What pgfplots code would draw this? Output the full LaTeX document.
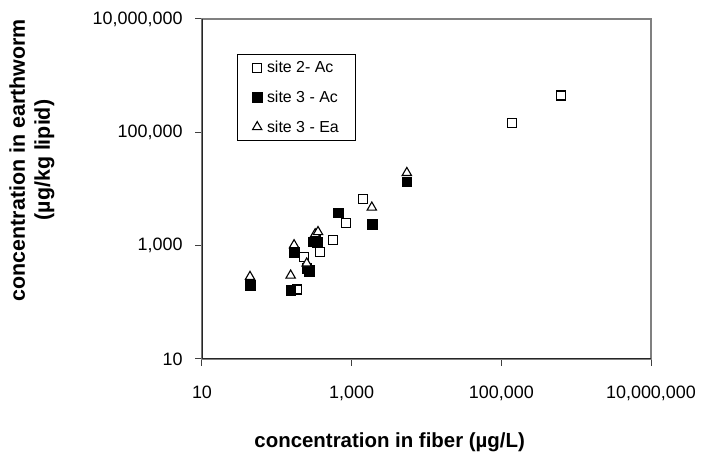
\documentclass[border=0pt]{standalone}
\usepackage{pgfplots}
\pgfplotsset{compat=1.18}
\usepackage{fontspec}
\setmainfont{Liberation Sans}
\begin{document}
\begin{tikzpicture}
\begin{axis}[
  scale only axis, width=449bp, height=340bp,
  xmode=log, ymode=log,
  xmin=10, xmax=1e7, ymin=10, ymax=1e7,
  xtick={10,1000,100000,10000000},
  xticklabels={10,{1,000},{100,000},{10,000,000}},
  ytick={10,1000,100000,10000000},
  yticklabels={10,{1,000},{100,000},{10,000,000}},
  xminorticks=false, yminorticks=false,
  xtick pos=left, ytick pos=left,
  tick align=outside, major tick length=7bp,
  tick style={black!75, line width=1bp},
  axis line style={draw=black!50, line width=1.1bp},
  ticklabel style={font=\fontsize{18}{20}\selectfont},
  /pgf/number format/assume math mode=true,
  xticklabel style={yshift=-16bp},
  yticklabel style={xshift=-9bp},
  xlabel={concentration in fiber (µg/L)},
  xlabel style={font=\bfseries\fontsize{20.5}{24}\selectfont, at={(axis description cs:0.418,-0.245)}, anchor=center},
  ylabel={concentration in earthworm\\(µg/kg lipid)},
  ylabel style={font=\bfseries\fontsize{21.5}{25}\selectfont, align=center, at={(axis description cs:-0.379,0.585)}, anchor=center},
  legend style={at={(axis description cs:0.078,0.897)}, anchor=north west, draw=black, line width=0.8bp,
    font=\fontsize{16}{18}\selectfont, row sep=12.5bp, inner xsep=15bp, inner ysep=5bp, cells={anchor=west}},
  legend cell align=left,
]
\addplot[only marks, mark=square*, mark size=4.5bp, mark options={fill=white, draw=black, line width=1.2bp}]
  coordinates {(631000,447000) (139000,147000) (1407,6560) (832,2520) (559,1260) (378,776) (231,633) (278,370) (185,169)};
\addlegendentry{\hspace{3bp}site 2- Ac}
\addplot[only marks, mark=square*, mark size=4.8bp, mark options={fill=black, draw=black}]
  coordinates {(43.8,202) (153,165) (170,776) (251,398) (270,355) (309,1170) (330,1300) (345,1150) (660,3800) (1890,2400) (5460,13400)};
\addlegendentry{\hspace{3bp}site 3 - Ac}
\addplot[only marks, mark=triangle*, mark size=5.4bp, mark options={fill=white, draw=black, line width=1.1bp}]
  coordinates {(43.8,283) (153,299) (170,1025) (251,488) (325,1600) (355,1750) (1860,4730) (5460,19300)};
\addlegendentry{\hspace{3bp}site 3 - Ea}
\draw[black!85, line width=1.3bp] (rel axis cs:0,1) -- (rel axis cs:0,0) -- (rel axis cs:1,0);
\end{axis}
\pgfresetboundingbox
\useasboundingbox (-202bp,-96bp) rectangle (510bp,359bp);
\end{tikzpicture}
\end{document}
